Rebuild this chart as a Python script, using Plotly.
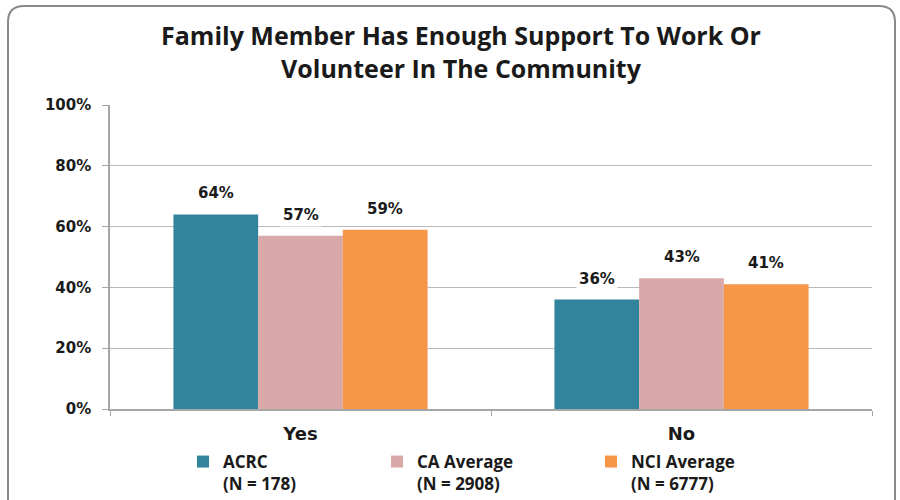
import plotly.graph_objects as go

categories = ["Yes", "No"]
series_names = ["ACRC<br>(N = 178)", "CA Average<br>(N = 2908)", "NCI Average<br>(N = 6777)"]
acrc = [64, 36]
ca_avg = [57, 43]
nci_avg = [59, 41]
colors = ["#31849B", "#D9A9A9", "#F79646"]
title_text = "Family Member Has Enough Support To Work Or<br>Volunteer In The Community"
y_ticks = [0, 20, 40, 60, 80, 100]
y_tick_labels = ["0%", "20%", "40%", "60%", "80%", "100%"]

W, H = 900, 500
ML, MR, MT, MB = 110, 28, 105, 91
PW, PH = W - ML - MR, H - MT - MB
BARGAP = 0.333

def px_x(px):
    return (px - ML) / PW

def px_y(py):
    return (H - MB - py) / PH

all_series = [acrc, ca_avg, nci_avg]
n_series = len(all_series)
bar_px = PW / len(categories) * (1 - BARGAP) / n_series

fig = go.Figure()
legend_ids = ["legend", "legend2", "legend3"]
for i, (vals, name, col, lg) in enumerate(zip(all_series, series_names, colors, legend_ids)):
    fig.add_trace(go.Bar(
        x=categories, y=vals, name=name, marker=dict(color=col, line=dict(width=0)),
        legend=lg, hovertemplate="%{x}: %{y}%<extra></extra>",
    ))
    shift = (i - (n_series - 1) / 2) * bar_px
    for cat, v in zip(categories, vals):
        fig.add_annotation(
            x=cat, y=v, xref="x", yref="y", text=f"{v}%", showarrow=False,
            xshift=shift, yshift=9, yanchor="bottom", bgcolor="white", borderpad=2,
            font=dict(family="DejaVu Sans", size=15, color="#1a1a1a", weight="bold"),
        )

# rounded border
l, r, t, b, rad = 8, 895, 6, 520, 16
path = (
    f"M {px_x(l)},{px_y(t + rad)} "
    f"Q {px_x(l)},{px_y(t)} {px_x(l + rad)},{px_y(t)} "
    f"L {px_x(r - rad)},{px_y(t)} "
    f"Q {px_x(r)},{px_y(t)} {px_x(r)},{px_y(t + rad)} "
    f"L {px_x(r)},{px_y(b)} L {px_x(l)},{px_y(b)} Z"
)
fig.add_shape(type="path", path=path, xref="paper", yref="paper",
              line=dict(color="#8a8a8a", width=2), fillcolor="rgba(0,0,0,0)", layer="below")

legend_font = dict(family="Open Sans", size=17, color="#1a1a1a", weight="bold")
common_leg = dict(orientation="h", xref="container", yref="container", yanchor="top",
                  xanchor="left", valign="top", font=legend_font, bgcolor="rgba(0,0,0,0)",
                  itemclick=False)
ly = (H - 444) / H
layout_legends = {
    "legend": dict(x=(223 - 40) / W, y=ly, **common_leg),
    "legend2": dict(x=(417 - 40) / W, y=ly, **common_leg),
    "legend3": dict(x=(631 - 40) / W, y=ly, **common_leg),
}

fig.update_layout(
    width=W, height=H,
    margin=dict(l=ML, r=MR, t=MT, b=MB, autoexpand=False),
    paper_bgcolor="white", plot_bgcolor="white",
    barmode="group", bargap=BARGAP, bargroupgap=0,
    title=dict(text=title_text, x=461 / W, xanchor="center", xref="container",
               y=(H - 45) / H, yanchor="middle", yref="container",
               font=dict(family="Open Sans", size=25, color="#1a1a1a", weight="bold")),
    showlegend=True,
    **layout_legends,
)
fig.update_xaxes(
    showline=True, linecolor="#a6a6a6", linewidth=1.5,
    ticks="outside", tickson="boundaries", ticklen=5, tickcolor="#a6a6a6",
    tickfont=dict(family="DejaVu Sans", size=18, color="#1a1a1a", weight="bold"),
    ticklabelstandoff=8,
    showgrid=False,
)
fig.update_yaxes(
    range=[0, 100], tickvals=y_ticks, ticktext=y_tick_labels,
    showline=True, linecolor="#a6a6a6", linewidth=1.5,
    ticks="outside", ticklen=6, tickcolor="#a6a6a6",
    showgrid=True, gridcolor="#b8b8b8", gridwidth=1.2,
    tickfont=dict(family="DejaVu Sans", size=15, color="#1a1a1a", weight="bold"),
    ticklabelstandoff=8,
    zeroline=False,
)
fig.write_html("out.html", config={"displayModeBar": False},
               post_script="document.body.style.margin='0';")
